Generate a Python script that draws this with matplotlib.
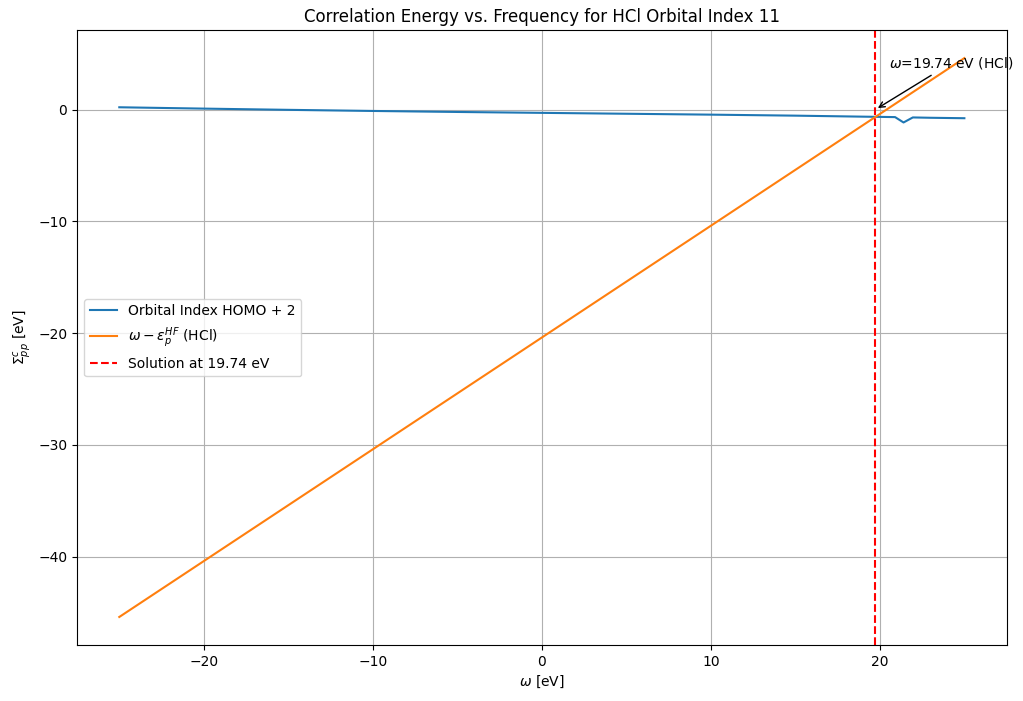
import numpy as np
import matplotlib
matplotlib.use("Agg")
import matplotlib.pyplot as plt

# frequency grid and correlation self-energy
omega = [-25, -20, -15, -10, -5, 0, 5, 10, 15, 19, 20, 20.9, 21.4, 21.95, 23, 24, 25]
sigma_c = [0.2, 0.08, -0.03, -0.13, -0.22, -0.3, -0.38, -0.46, -0.55, -0.64,
           -0.66, -0.68, -1.16, -0.71, -0.74, -0.76, -0.78]

eps_hf = 20.4  # HF orbital energy term (HCl)
solution = 19.74

omega_arr = np.array(omega)

fig = plt.figure(figsize=(10.23, 7.01), dpi=100)
ax = fig.add_axes([0.0753, 0.08, 0.9087, 0.877])

ax.plot(omega_arr, sigma_c, label="Orbital Index HOMO + 2")
ax.plot(omega_arr, omega_arr - eps_hf, label=r"$\omega - \epsilon_p^{HF}$ (HCl)")
ax.axvline(solution, color="red", linestyle="--", label=f"Solution at {solution:.2f} eV")

ax.annotate(
    rf"$\omega$={solution:.2f} eV (HCl)",
    xy=(solution, 0),
    xytext=(solution + 0.8, 3.75),
    arrowprops=dict(arrowstyle="->", color="black"),
)

ax.set_title("Correlation Energy vs. Frequency for HCl Orbital Index 11")
ax.set_xlabel(r"$\omega$ [eV]")
ax.set_ylabel(r"$\Sigma^c_{pp}$ [eV]")
ax.grid(True)
ax.legend(loc="center left")

fig.savefig("out.png", dpi=100)
